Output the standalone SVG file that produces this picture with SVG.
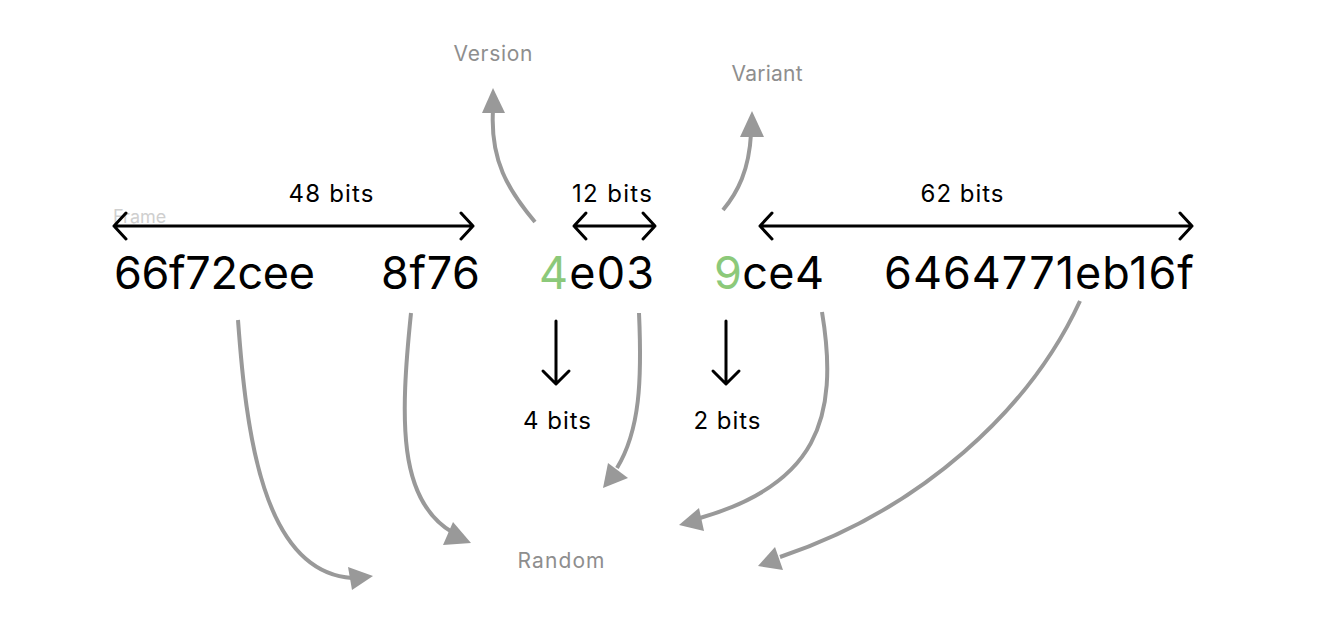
<svg xmlns="http://www.w3.org/2000/svg" width="1336" height="634" viewBox="0 0 1336 634">
<style>
.hex{font-family:Inter,"Liberation Sans",sans-serif;font-size:45px;fill:#000}
.g{fill:#8cc97a}
.lbl{font-family:Inter,"Liberation Sans",sans-serif;font-size:24px;fill:#000;text-anchor:middle}
.gray{font-family:Inter,"Liberation Sans",sans-serif;font-size:21px;fill:#8e8e8e;text-anchor:middle}
.frame{font-family:Inter,"Liberation Sans",sans-serif;font-size:18px;fill:#cfcfcf}
.blk{stroke:#000;stroke-width:3;fill:none;stroke-linecap:round;stroke-linejoin:round}
.cur{stroke:#999;stroke-width:4;fill:none}
.head{fill:#999}
</style>
<rect width="1336" height="634" fill="#fff"/>
<g id="frame"><text class="frame" x="113" y="223">Frame</text></g>
<g id="labels">
<text class="gray" x="493" y="61" textLength="79" lengthAdjust="spacing">Version</text>
<text class="gray" x="767" y="81" textLength="71" lengthAdjust="spacing">Variant</text>
<text class="gray" x="561" y="568" textLength="87" lengthAdjust="spacing">Random</text>
<text class="lbl" x="331" y="202" textLength="85" lengthAdjust="spacing">48 bits</text>
<text class="lbl" x="612" y="202" textLength="80" lengthAdjust="spacing">12 bits</text>
<text class="lbl" x="962" y="202" textLength="83" lengthAdjust="spacing">62 bits</text>
<text class="lbl" x="557" y="429" textLength="68" lengthAdjust="spacing">4 bits</text>
<text class="lbl" x="727" y="429" textLength="67" lengthAdjust="spacing">2 bits</text>
</g>
<g id="hex">
<text class="hex" x="114" y="289" textLength="201" lengthAdjust="spacing">66f72cee</text>
<text class="hex" x="381" y="289" textLength="99" lengthAdjust="spacing">8f76</text>
<text class="hex" x="539" y="289" textLength="115" lengthAdjust="spacing"><tspan class="g">4</tspan>e03</text>
<text class="hex" x="714" y="289" textLength="110" lengthAdjust="spacing"><tspan class="g">9</tspan>ce4</text>
<text class="hex" x="884" y="289" textLength="310" lengthAdjust="spacing">6464771eb16f</text>
</g>
<g id="connectors">
<g id="bits-arrows">
<path class="blk" d="M114,226 H473 M126,213 L114,226 L126,239 M461,213 L473,226 L461,239"/>
<path class="blk" d="M574,226 H655 M586,213 L574,226 L586,239 M643,213 L655,226 L643,239"/>
<path class="blk" d="M760,226 H1192 M772,213 L760,226 L772,239 M1180,213 L1192,226 L1180,239"/>
<path class="blk" d="M556,321 V383 M543,371 L556,384 L569,371"/>
<path class="blk" d="M726,321 V383 M713,371 L726,384 L739,371"/>
</g>
<g id="gray-arrows">
<path class="cur" d="M535,222 C508,190 490,160 493,110"/>
<polygon class="head" points="493,88 482,113 505,113"/>
<path class="cur" d="M723,210 C738,192 749,170 751,134"/>
<polygon class="head" points="752,111 740,137 764,137"/>
<path class="cur" d="M238,320 C246,430 262,572 352,578"/>
<polygon class="head" points="373,576 348,567 352,590"/>
<path class="cur" d="M411,313 C400,420 398,500 452,532"/>
<polygon class="head" points="471,543 453,522 443,545"/>
<path class="cur" d="M639,313 C642,380 640,430 617,468"/>
<polygon class="head" points="603,488 608,463 628,478"/>
<path class="cur" d="M822,312 C840,420 815,485 700,518"/>
<polygon class="head" points="679,525 699,508 704,531"/>
<path class="cur" d="M1080,301 C1030,410 920,510 780,557"/>
<polygon class="head" points="758,566 775,547 783,570"/>
</g>
</g>
</svg>
